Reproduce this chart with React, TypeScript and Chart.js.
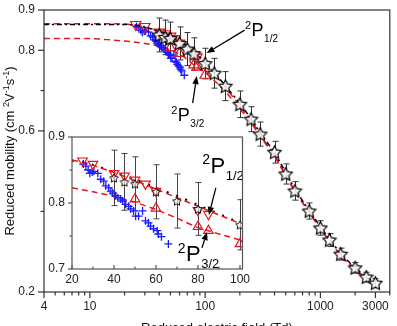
import React, { useEffect, useRef } from "react";
import { Chart, registerables } from "chart.js";

Chart.register(...registerables);

const FONT = '"Liberation Sans", Arial, sans-serif';

// Measured ion mobility (stars) with error bars
const starField = [40, 45, 50, 60, 70, 80, 100, 120, 150, 200, 250, 300, 400, 500, 600, 800, 1000, 1200, 1500, 2000, 2500, 3000];
const starMobility = [0.838, 0.832, 0.829, 0.817, 0.803, 0.791, 0.767, 0.743, 0.711, 0.666, 0.629, 0.592, 0.547, 0.493, 0.451, 0.401, 0.359, 0.329, 0.294, 0.26, 0.237, 0.222];
const starError = [0.042, 0.043, 0.041, 0.041, 0.041, 0.04, 0.038, 0.037, 0.036, 0.033, 0.031, 0.03, 0.027, 0.025, 0.023, 0.02, 0.018, 0.016, 0.015, 0.013, 0.012, 0.011];

// 2P1/2 state (down triangles)
const p12Field = [25, 30, 40, 45, 50, 55, 60, 80, 85];
const p12Mobility = [0.864, 0.859, 0.845, 0.841, 0.835, 0.829, 0.818, 0.789, 0.783];

// 2P3/2 state (up triangles)
const p32Field = [50, 60, 80, 85, 100];
const p32Mobility = [0.806, 0.792, 0.764, 0.758, 0.738];

// Drift-tube data (crosses)
const plusField = [25.4, 26.6, 27.7, 28.5, 29.6, 30.4, 32.3, 33.7, 35.1, 36.1, 37.5, 38.5, 39.4, 40.8, 41.8, 43.2, 44.1, 45.6, 47.0, 48.0, 49.3, 50.3, 51.7, 53.6, 55.0, 56.4, 57.4, 58.8, 60.6, 61.1, 62.6, 65.9];
const plusMobility = [0.859, 0.856, 0.85, 0.845, 0.847, 0.848, 0.845, 0.836, 0.833, 0.826, 0.823, 0.818, 0.815, 0.811, 0.808, 0.806, 0.803, 0.798, 0.795, 0.791, 0.788, 0.78, 0.78, 0.788, 0.773, 0.77, 0.765, 0.761, 0.758, 0.753, 0.749, 0.738];

// Calculated curves
const curveField = [4, 10, 20, 25, 30, 40, 50, 60, 70, 80, 100, 120, 150, 200, 250, 300, 400, 500, 600, 800, 1000, 1200, 1500, 2000, 2500, 3000];
const curveBlack = [0.864, 0.864, 0.864, 0.862, 0.858, 0.847, 0.836, 0.823, 0.811, 0.797, 0.77, 0.745, 0.712, 0.668, 0.63, 0.596, 0.545, 0.497, 0.456, 0.402, 0.362, 0.331, 0.296, 0.26, 0.238, 0.222];
const curveP12 = [0.866, 0.866, 0.865, 0.862, 0.857, 0.846, 0.834, 0.821, 0.808, 0.795, 0.769, 0.743, 0.708, 0.662, 0.625, 0.59, 0.538, 0.49, 0.452, 0.398, 0.358, 0.327, 0.292, 0.257, 0.235, 0.219];
const curveP32 = [0.829, 0.829, 0.823, 0.82, 0.817, 0.81, 0.801, 0.79, 0.777, 0.763, 0.744, 0.725, 0.697, 0.655, 0.62, 0.587, 0.536, 0.489, 0.45, 0.397, 0.357, 0.326, 0.291, 0.256, 0.234, 0.218];

// Axis ticks
const xMajorTicks = [4, 10, 100, 1000, 3000];
const xMinorTicks = [5, 6, 7, 8, 9, 20, 30, 40, 50, 60, 70, 80, 90, 200, 300, 400, 500, 600, 700, 800, 900, 2000, 4000];
const yMajorTicks = [0.2, 0.6, 0.8, 0.9];
const yMinorTicks = [0.4, 0.7];
const insetXTicks = [20, 40, 60, 80, 100];
const insetXMinor = [30, 50, 70, 90];
const insetYTicks = [0.7, 0.8, 0.9];
const insetYMinor = [0.75, 0.85];

// State labels and arrows (data coordinates)
const mainLabels = [
  { x: 253, y: 0.835, sup: "2", sub: "1/2" },
  { x: 58, y: 0.624, sup: "2", sub: "3/2" },
];
const mainArrows = [
  { x1: 220, y1: 0.85, x2: 103, y2: 0.793 },
  { x1: 78, y1: 0.669, x2: 84.5, y2: 0.736 },
];
const insetLabels = [
  { x: 86, y: 0.846, sup: "2", sub: "1/2" },
  { x: 74.3, y: 0.712, sup: "2", sub: "3/2" },
];
const insetArrows = [
  { x1: 88.5, y1: 0.823, x2: 85.2, y2: 0.782 },
  { x1: 81.9, y1: 0.732, x2: 84.3, y2: 0.756 },
];

type P = { x: number; y: number };

function pairs(xs: number[], ys: number[], lo = -Infinity, hi = Infinity): P[] {
  return xs.map((x, i) => ({ x, y: ys[i] })).filter((p) => p.x >= lo && p.x <= hi);
}

function errs(xs: number[], es: number[], lo = -Infinity, hi = Infinity): number[] {
  return es.filter((_, i) => xs[i] >= lo && xs[i] <= hi);
}

function makeStar(r: number, lw: number, color: string, fill: string): HTMLCanvasElement {
  const size = Math.ceil(2 * r + 2 * lw + 2);
  const c = document.createElement("canvas");
  c.width = size;
  c.height = size;
  const ctx = c.getContext("2d")!;
  const cx = size / 2;
  const cy = size / 2 + 0.5;
  ctx.beginPath();
  for (let i = 0; i < 10; i++) {
    const rad = i % 2 === 0 ? r : r * 0.5;
    const a = -Math.PI / 2 + (i * Math.PI) / 5;
    const px = cx + rad * Math.cos(a);
    const py = cy + rad * Math.sin(a);
    if (i === 0) ctx.moveTo(px, py);
    else ctx.lineTo(px, py);
  }
  ctx.closePath();
  ctx.fillStyle = fill;
  ctx.fill();
  ctx.lineJoin = "miter";
  ctx.lineWidth = lw;
  ctx.strokeStyle = color;
  ctx.stroke();
  return c;
}

const errorBarPlugin = {
  id: "errorBars",
  beforeDatasetsDraw(chart: any, _a: any, opts: any) {
    const { ctx, chartArea, scales } = chart;
    const xs = scales.x;
    const ys = scales.y;
    ctx.save();
    ctx.beginPath();
    ctx.rect(chartArea.left, chartArea.top, chartArea.right - chartArea.left, chartArea.bottom - chartArea.top);
    ctx.clip();
    ctx.strokeStyle = opts.color || "#333";
    ctx.lineWidth = 1;
    const cap = opts.cap || 3;
    chart.data.datasets.forEach((ds: any) => {
      if (!ds.errorBars) return;
      ds.data.forEach((p: P, i: number) => {
        const e = ds.errorBars[i];
        const px = Math.round(xs.getPixelForValue(p.x)) + 0.5;
        const top = ys.getPixelForValue(p.y + e);
        const bot = ys.getPixelForValue(p.y - e);
        ctx.beginPath();
        ctx.moveTo(px, top);
        ctx.lineTo(px, bot);
        ctx.moveTo(px - cap, top);
        ctx.lineTo(px + cap, top);
        ctx.moveTo(px - cap, bot);
        ctx.lineTo(px + cap, bot);
        ctx.stroke();
      });
    });
    ctx.restore();
  },
};

const whiteAreaPlugin = {
  id: "whiteArea",
  beforeDraw(chart: any, _a: any, opts: any) {
    if (!opts.enabled) return;
    const { ctx, chartArea } = chart;
    ctx.save();
    ctx.fillStyle = "#fff";
    ctx.fillRect(chartArea.left, chartArea.top, chartArea.right - chartArea.left, chartArea.bottom - chartArea.top);
    ctx.restore();
  },
};

const axisDecorPlugin = {
  id: "axisDecor",
  afterDraw(chart: any, _a: any, o: any) {
    const { ctx, chartArea, scales } = chart;
    const { left, right, top, bottom } = chartArea;
    ctx.save();
    ctx.strokeStyle = o.color;
    ctx.lineWidth = o.lineWidth;
    ctx.strokeRect(left, top, right - left, bottom - top);
    const xDir = o.xInward ? -1 : 1;
    const yDir = o.yInward ? 1 : -1;
    const drawX = (vals: number[], len: number) => {
      vals.forEach((v) => {
        const px = scales.x.getPixelForValue(v);
        if (px < left - 0.5 || px > right + 0.5) return;
        ctx.beginPath();
        ctx.moveTo(px, bottom);
        ctx.lineTo(px, bottom + xDir * len);
        ctx.stroke();
      });
    };
    const drawY = (vals: number[], len: number) => {
      vals.forEach((v) => {
        const py = scales.y.getPixelForValue(v);
        ctx.beginPath();
        ctx.moveTo(left, py);
        ctx.lineTo(left + yDir * len, py);
        ctx.stroke();
      });
    };
    drawX(o.xMajor, o.majorLen);
    drawX(o.xMinor, o.minorLen);
    drawY(o.yMajor, o.majorLen);
    drawY(o.yMinor, o.minorLen);
    ctx.restore();
  },
};

const stateLabelPlugin = {
  id: "stateLabels",
  afterDatasetsDraw(chart: any, _a: any, o: any) {
    const { ctx, scales } = chart;
    const size = o.size;
    ctx.save();
    ctx.fillStyle = "#000";
    ctx.strokeStyle = "#000";
    ctx.textBaseline = "alphabetic";
    (o.labels || []).forEach((l: any) => {
      const px = scales.x.getPixelForValue(l.x);
      const py = scales.y.getPixelForValue(l.y);
      ctx.font = `${size}px ${FONT}`;
      const pw = ctx.measureText("P").width;
      ctx.textAlign = "left";
      ctx.fillText("P", px, py);
      ctx.font = `${Math.round(size * 0.62)}px ${FONT}`;
      ctx.textAlign = "right";
      ctx.fillText(l.sup, px - 0.5, py - size * 0.38);
      ctx.font = `${Math.round(size * 0.58)}px ${FONT}`;
      ctx.textAlign = "left";
      ctx.fillText(l.sub, px + pw + 0.5, py + size * 0.33);
    });
    ctx.lineWidth = 1.3;
    (o.arrows || []).forEach((a: any) => {
      const x1 = scales.x.getPixelForValue(a.x1);
      const y1 = scales.y.getPixelForValue(a.y1);
      const x2 = scales.x.getPixelForValue(a.x2);
      const y2 = scales.y.getPixelForValue(a.y2);
      const ang = Math.atan2(y2 - y1, x2 - x1);
      const hl = 8;
      const hw = 3.2;
      const bx = x2 - hl * Math.cos(ang);
      const by = y2 - hl * Math.sin(ang);
      ctx.beginPath();
      ctx.moveTo(x1, y1);
      ctx.lineTo(bx, by);
      ctx.stroke();
      ctx.beginPath();
      ctx.moveTo(x2, y2);
      ctx.lineTo(bx + hw * Math.sin(ang), by - hw * Math.cos(ang));
      ctx.lineTo(bx - hw * Math.sin(ang), by + hw * Math.cos(ang));
      ctx.closePath();
      ctx.fill();
    });
    ctx.restore();
  },
};

type Part = { t: string; sup?: boolean };

const axisTitlePlugin = {
  id: "axisTitles",
  afterDraw(chart: any, _a: any, o: any) {
    if (!o.enabled) return;
    const { ctx, chartArea } = chart;
    const size = o.size;
    const supSize = Math.round(size * 0.68);
    ctx.save();
    ctx.fillStyle = "#111";
    ctx.textBaseline = "alphabetic";
    ctx.textAlign = "left";
    // x title
    ctx.font = `${size}px ${FONT}`;
    const xt = o.xTitle as string;
    const xw = ctx.measureText(xt).width;
    ctx.fillText(xt, (chartArea.left + chartArea.right) / 2 - xw / 2, o.xBaseline);
    // y title with superscripts, rotated
    const parts: Part[] = o.yParts;
    const widthOf = (p: Part) => {
      ctx.font = `${p.sup ? supSize : size}px ${FONT}`;
      return ctx.measureText(p.t).width;
    };
    const total = parts.reduce((s, p) => s + widthOf(p), 0);
    ctx.translate(o.yBaseline, o.yCenter);
    ctx.rotate(-Math.PI / 2);
    let cx = -total / 2;
    parts.forEach((p) => {
      ctx.font = `${p.sup ? supSize : size}px ${FONT}`;
      ctx.fillText(p.t, cx, p.sup ? -size * 0.42 : 0);
      cx += ctx.measureText(p.t).width;
    });
    ctx.restore();
  },
};

function fixX(h: number) {
  return (s: any) => {
    s.height = h;
    s.paddingLeft = 0;
    s.paddingRight = 0;
  };
}
function fixY(w: number) {
  return (s: any) => {
    s.width = w;
    s.paddingTop = 0;
    s.paddingBottom = 0;
  };
}

function lineSet(data: P[], color: string, dash: number[], width: number, order: number) {
  return {
    data,
    showLine: true,
    borderColor: color,
    borderWidth: width,
    borderDash: dash,
    pointRadius: 0,
    fill: false,
    tension: 0.3,
    order,
  };
}

function buildDatasets(lo: number, hi: number, inset: boolean) {
  const star = inset ? makeStar(4.6, 1.0, "#111", "rgba(255,255,255,0.6)") : makeStar(7, 1.15, "#000", "rgba(255,255,255,0.85)");
  const tri = inset ? 5.5 : 6;
  return [
    {
      data: pairs(starField, starMobility, lo, hi),
      errorBars: errs(starField, starError, lo, hi),
      pointStyle: star,
      pointRadius: 6,
      showLine: false,
      order: 0,
    },
    {
      data: pairs(p12Field, p12Mobility, lo, hi),
      pointStyle: "triangle",
      rotation: 180,
      pointRadius: tri,
      borderColor: "#e8141c",
      backgroundColor: "rgba(0,0,0,0)",
      borderWidth: 1.2,
      showLine: false,
      order: 2,
    },
    {
      data: pairs(p32Field, p32Mobility, lo, hi),
      pointStyle: "triangle",
      pointRadius: tri,
      borderColor: "#e8141c",
      backgroundColor: "rgba(0,0,0,0)",
      borderWidth: 1.2,
      showLine: false,
      order: 3,
    },
    {
      data: pairs(plusField, plusMobility, lo, hi),
      pointStyle: "cross",
      pointRadius: 4,
      borderColor: "#1a1aff",
      borderWidth: 1.3,
      showLine: false,
      order: 4,
    },
    lineSet(pairs(curveField, curveP12, lo, hi), "#e8141c", [6, 4], 1.5, 5),
    lineSet(pairs(curveField, curveP32, lo, hi), "#e8141c", [6, 4], 1.5, 6),
    lineSet(pairs(curveField, curveBlack, lo, hi), "#000", inset ? [2, 8] : [5, 3, 2, 3], inset ? 2 : 1.5, inset ? 7 : 1),
  ];
}

export default function App() {
  const mainRef = useRef<HTMLCanvasElement>(null);
  const insetRef = useRef<HTMLCanvasElement>(null);

  useEffect(() => {
    const labelFont = { family: FONT, size: 12 };

    const main = new Chart(mainRef.current!, {
      type: "scatter",
      data: { datasets: buildDatasets(0, 1e9, false) as any },
      plugins: [whiteAreaPlugin, errorBarPlugin, stateLabelPlugin, axisDecorPlugin, axisTitlePlugin],
      options: {
        animation: false,
        responsive: false,
        events: [],
        layout: { padding: { left: 0, right: 5, top: 10, bottom: 0 } },
        plugins: {
          legend: { display: false },
          tooltip: { enabled: false },
          errorBars: { color: "#333", cap: 3 },
          whiteArea: { enabled: false },
          stateLabels: { size: 18, labels: mainLabels, arrows: mainArrows },
          axisDecor: {
            color: "#333",
            lineWidth: 1.2,
            xMajor: xMajorTicks,
            xMinor: xMinorTicks,
            yMajor: yMajorTicks,
            yMinor: yMinorTicks,
            majorLen: 6,
            minorLen: 3.5,
            xInward: false,
            yInward: false,
          },
          axisTitles: {
            enabled: true,
            size: 13,
            xTitle: "Reduced electric field (Td)",
            xBaseline: 332,
            yBaseline: 14,
            yCenter: 151,
            yParts: [
              { t: "Reduced mobility (cm " },
              { t: "2", sup: true },
              { t: "V" },
              { t: "-1", sup: true },
              { t: "s" },
              { t: "-1", sup: true },
              { t: ")" },
            ],
          },
        } as any,
        scales: {
          x: {
            type: "logarithmic",
            min: 4,
            max: 4000,
            afterBuildTicks: (s: any) => {
              s.ticks = xMajorTicks.map((v) => ({ value: v }));
            },
            afterFit: fixX(34),
            grid: { display: false, drawTicks: false },
            border: { display: false },
            ticks: {
              autoSkip: false,
              maxRotation: 0,
              padding: 7,
              color: "#222",
              font: labelFont,
              callback: (v: any) => String(v),
            },
          },
          y: {
            type: "linear",
            min: 0.2,
            max: 0.9,
            afterBuildTicks: (s: any) => {
              s.ticks = yMajorTicks.map((v) => ({ value: v }));
            },
            afterFit: fixY(44),
            grid: { display: false, drawTicks: false },
            border: { display: false },
            ticks: {
              autoSkip: false,
              padding: 9,
              color: "#222",
              font: labelFont,
              callback: (v: any) => Number(v).toFixed(1),
            },
          },
        },
      },
    });

    const inset = new Chart(insetRef.current!, {
      type: "scatter",
      data: { datasets: buildDatasets(20, 100, true) as any },
      plugins: [whiteAreaPlugin, errorBarPlugin, stateLabelPlugin, axisDecorPlugin],
      options: {
        animation: false,
        responsive: false,
        events: [],
        layout: { padding: { left: 0, right: 12.5, top: 12, bottom: 0 } },
        plugins: {
          legend: { display: false },
          tooltip: { enabled: false },
          errorBars: { color: "#444", cap: 3 },
          whiteArea: { enabled: true },
          stateLabels: { size: 22, labels: insetLabels, arrows: insetArrows },
          axisDecor: {
            color: "#555",
            lineWidth: 1.2,
            xMajor: insetXTicks,
            xMinor: insetXMinor,
            yMajor: insetYTicks,
            yMinor: insetYMinor,
            majorLen: 4,
            minorLen: 2.5,
            xInward: true,
            yInward: false,
          },
        } as any,
        scales: {
          x: {
            type: "linear",
            min: 20,
            max: 101.2,
            afterBuildTicks: (s: any) => {
              s.ticks = insetXTicks.map((v) => ({ value: v }));
            },
            afterFit: fixX(21),
            grid: { display: false, drawTicks: false },
            border: { display: false },
            ticks: {
              autoSkip: false,
              maxRotation: 0,
              padding: 3,
              color: "#222",
              font: labelFont,
              callback: (v: any) => String(v),
            },
          },
          y: {
            type: "linear",
            min: 0.7,
            max: 0.9,
            afterBuildTicks: (s: any) => {
              s.ticks = insetYTicks.map((v) => ({ value: v }));
            },
            afterFit: fixY(32),
            grid: { display: false, drawTicks: false },
            border: { display: false },
            ticks: {
              autoSkip: false,
              padding: 7,
              color: "#222",
              font: labelFont,
              callback: (v: any) => Number(v).toFixed(1),
            },
          },
        },
      },
    });

    return () => {
      main.destroy();
      inset.destroy();
    };
  }, []);

  return (
    <div style={{ position: "fixed", left: 0, top: 0, width: 397, height: 326, background: "#fff", overflow: "hidden" }}>
      <canvas ref={mainRef} width={397} height={326} style={{ position: "absolute", left: 0, top: 0 }} />
      <canvas ref={insetRef} width={215} height={165} style={{ position: "absolute", left: 40, top: 125 }} />
    </div>
  );
}
